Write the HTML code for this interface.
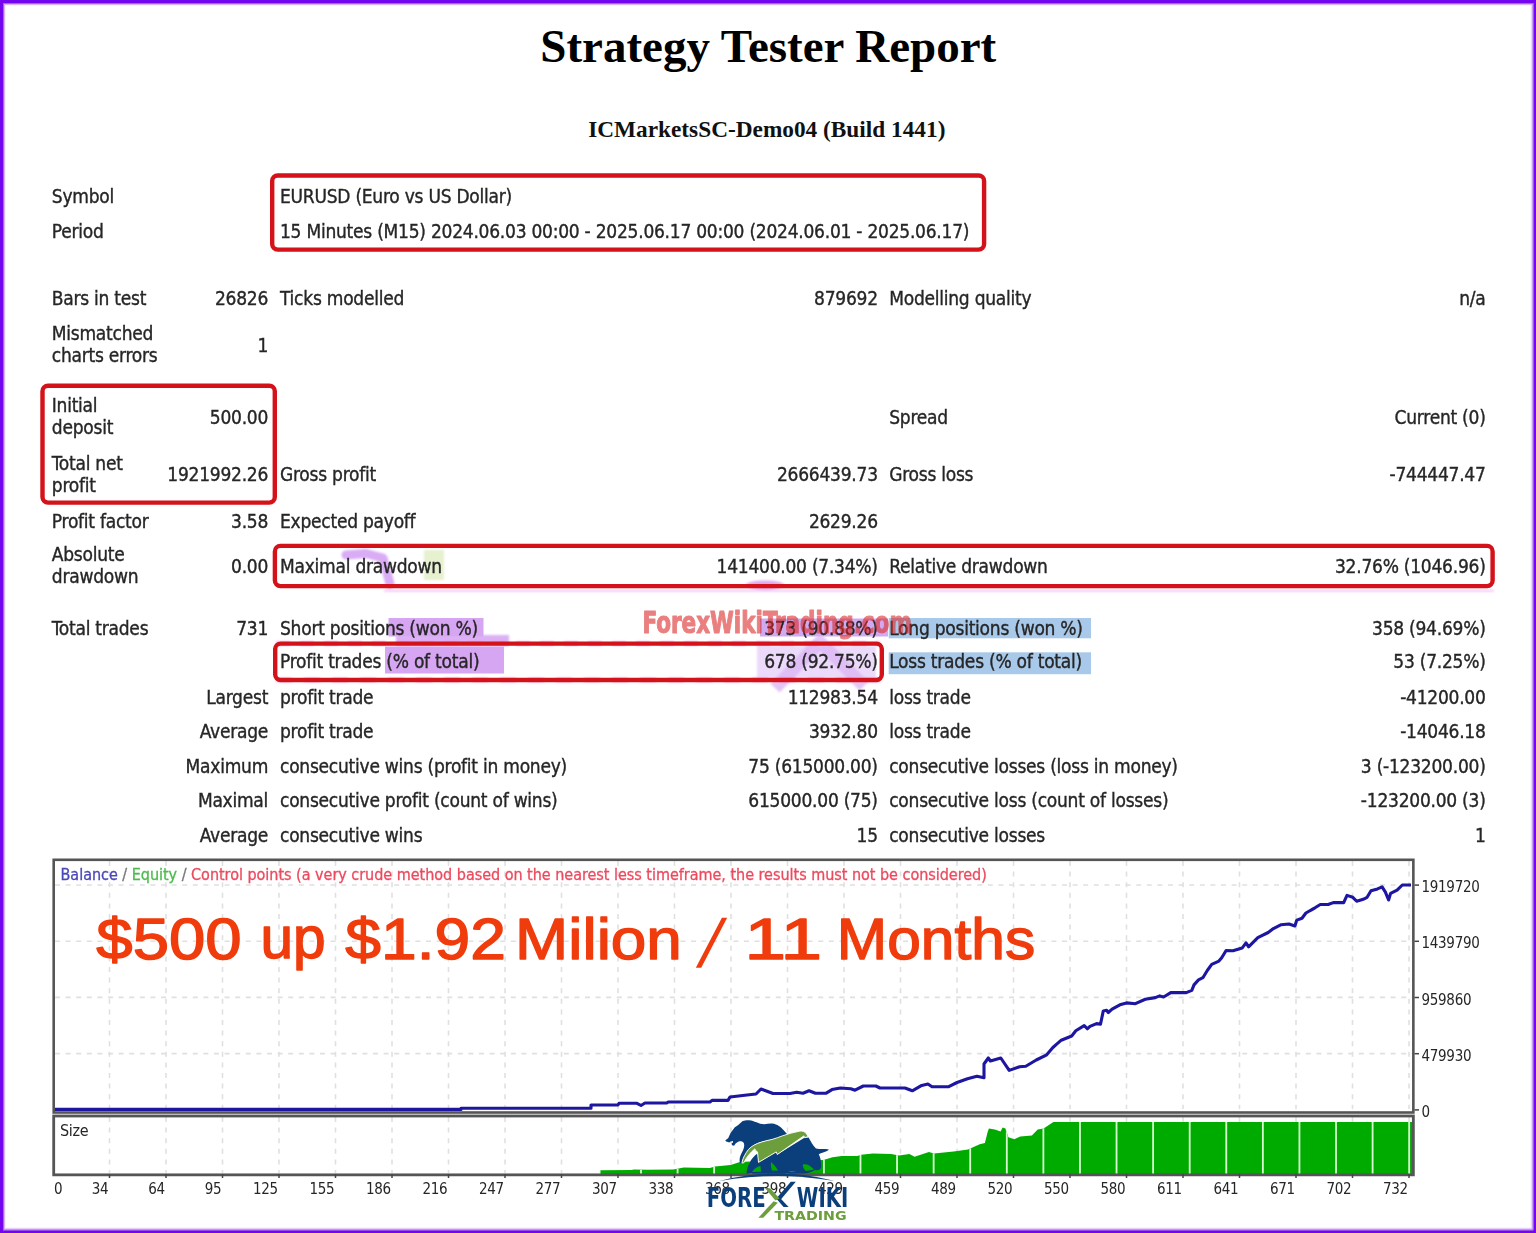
<!DOCTYPE html>
<html lang="en"><head><meta charset="utf-8"><title>Strategy Tester Report</title>
<style>html,body{margin:0;padding:0;background:#fff;}body{width:1536px;height:1233px;overflow:hidden;}svg{display:block;}</style>
</head><body>
<svg width="1536" height="1233" viewBox="0 0 1536 1233" font-family='"DejaVu Sans Condensed","DejaVu Sans","Liberation Sans",sans-serif'>
<rect width="1536" height="1233" fill="#fff"/>
<text x="768.3" y="61.6" text-anchor="middle" font-family='"Liberation Serif","Times New Roman",serif' font-weight="bold" font-size="47" fill="#000">Strategy Tester Report</text>
<text x="766.8" y="136.7" text-anchor="middle" font-family='"Liberation Serif","Times New Roman",serif' font-weight="bold" font-size="23.3" fill="#111">ICMarketsSC-Demo04 (Build 1441)</text>
<filter id="bl" x="-20%" y="-20%" width="140%" height="140%"><feGaussianBlur stdDeviation="1.1"/></filter>
<g filter="url(#bl)">
<polyline points="346,555 366,553.5 383,558 390,584" fill="none" stroke="#d9acf5" stroke-width="9" stroke-linecap="round" stroke-linejoin="round"/>
<rect x="424" y="550" width="20" height="30" fill="#e6f1cf"/>
<line x1="384" y1="590.8" x2="1494" y2="590.8" stroke="#eaa2ea" stroke-width="1.6" opacity="0.75"/>
<rect x="396" y="635" width="113" height="11" fill="#dcb0f4"/>
<ellipse cx="765" cy="585" rx="19" ry="4.5" fill="#dcaaf2"/>
<rect x="757" y="646" width="119" height="32" fill="#ecdafa"/>
<polyline points="775,688 820,642 864,686" fill="none" stroke="#dcb6f4" stroke-width="13" stroke-linejoin="round" opacity="0.8"/>
<line x1="276" y1="643.5" x2="880" y2="643.5" stroke="#ee88e0" stroke-width="5" stroke-dasharray="14 10" opacity="0.5"/>
<line x1="276" y1="680" x2="880" y2="680" stroke="#ee88e0" stroke-width="5" stroke-dasharray="16 12" opacity="0.5"/>
</g>
<rect x="388.5" y="618" width="95" height="18.5" fill="#d7a6f3"/>
<rect x="385" y="646.5" width="119" height="27" fill="#d7a6f3"/>
<rect x="760" y="618.5" width="128" height="18" fill="#cfaaf0"/>
<rect x="888.7" y="618" width="202.3" height="20.3" fill="#a9c9ea"/>
<rect x="888.7" y="652.3" width="202.3" height="21.9" fill="#a9c9ea"/>
<g stroke="#262626" stroke-width="0.35">
<text x="280" y="203.3" font-size="19" letter-spacing="-0.25" fill="#262626">EURUSD (Euro vs US Dollar)</text>
<text x="51.8" y="203.3" font-size="19" letter-spacing="-0.25" fill="#262626">Symbol</text>
<text x="51.8" y="238.2" font-size="19" letter-spacing="-0.25" fill="#262626">Period</text>
<text x="280" y="238.2" font-size="19" letter-spacing="-0.25" fill="#262626">15 Minutes (M15) 2024.06.03 00:00 - 2025.06.17 00:00 (2024.06.01 - 2025.06.17)</text>
<text x="51.8" y="305" font-size="19" letter-spacing="-0.25" fill="#262626">Bars in test</text>
<text x="268.1" y="305" text-anchor="end" font-size="19" letter-spacing="-0.25" fill="#262626">26826</text>
<text x="280" y="305" font-size="19" letter-spacing="-0.25" fill="#262626">Ticks modelled</text>
<text x="877.8" y="305" text-anchor="end" font-size="19" letter-spacing="-0.25" fill="#262626">879692</text>
<text x="889.2" y="305" font-size="19" letter-spacing="-0.25" fill="#262626">Modelling quality</text>
<text x="1485.6" y="305" text-anchor="end" font-size="19" letter-spacing="-0.25" fill="#262626">n/a</text>
<text x="51.8" y="340.2" font-size="19" letter-spacing="-0.25" fill="#262626">Mismatched</text>
<text x="51.8" y="362" font-size="19" letter-spacing="-0.25" fill="#262626">charts errors</text>
<text x="268.1" y="351.9" text-anchor="end" font-size="19" letter-spacing="-0.25" fill="#262626">1</text>
<text x="51.8" y="412" font-size="19" letter-spacing="-0.25" fill="#262626">Initial</text>
<text x="51.8" y="434" font-size="19" letter-spacing="-0.25" fill="#262626">deposit</text>
<text x="268.1" y="423.5" text-anchor="end" font-size="19" letter-spacing="-0.25" fill="#262626">500.00</text>
<text x="889.2" y="423.5" font-size="19" letter-spacing="-0.25" fill="#262626">Spread</text>
<text x="1485.6" y="423.5" text-anchor="end" font-size="19" letter-spacing="-0.25" fill="#262626">Current (0)</text>
<text x="51.8" y="469.7" font-size="19" letter-spacing="-0.25" fill="#262626">Total net</text>
<text x="51.8" y="491.6" font-size="19" letter-spacing="-0.25" fill="#262626">profit</text>
<text x="268.1" y="481.4" text-anchor="end" font-size="19" letter-spacing="-0.25" fill="#262626">1921992.26</text>
<text x="280" y="481.4" font-size="19" letter-spacing="-0.25" fill="#262626">Gross profit</text>
<text x="877.8" y="481.4" text-anchor="end" font-size="19" letter-spacing="-0.25" fill="#262626">2666439.73</text>
<text x="889.2" y="481.4" font-size="19" letter-spacing="-0.25" fill="#262626">Gross loss</text>
<text x="1485.6" y="481.4" text-anchor="end" font-size="19" letter-spacing="-0.25" fill="#262626">-744447.47</text>
<text x="51.8" y="527.5" font-size="19" letter-spacing="-0.25" fill="#262626">Profit factor</text>
<text x="268.1" y="527.5" text-anchor="end" font-size="19" letter-spacing="-0.25" fill="#262626">3.58</text>
<text x="280" y="527.5" font-size="19" letter-spacing="-0.25" fill="#262626">Expected payoff</text>
<text x="877.8" y="527.5" text-anchor="end" font-size="19" letter-spacing="-0.25" fill="#262626">2629.26</text>
<text x="51.8" y="561" font-size="19" letter-spacing="-0.25" fill="#262626">Absolute</text>
<text x="51.8" y="583" font-size="19" letter-spacing="-0.25" fill="#262626">drawdown</text>
<text x="268.1" y="572.8" text-anchor="end" font-size="19" letter-spacing="-0.25" fill="#262626">0.00</text>
<text x="280" y="572.8" font-size="19" letter-spacing="-0.25" fill="#262626">Maximal drawdown</text>
<text x="877.8" y="572.8" text-anchor="end" font-size="19" letter-spacing="-0.25" fill="#262626">141400.00 (7.34%)</text>
<text x="889.2" y="572.8" font-size="19" letter-spacing="-0.25" fill="#262626">Relative drawdown</text>
<text x="1485.6" y="572.8" text-anchor="end" font-size="19" letter-spacing="-0.25" fill="#262626">32.76% (1046.96)</text>
<text x="51.8" y="635.2" font-size="19" letter-spacing="-0.25" fill="#262626">Total trades</text>
<text x="268.1" y="635.2" text-anchor="end" font-size="19" letter-spacing="-0.25" fill="#262626">731</text>
<text x="280" y="635.2" font-size="19" letter-spacing="-0.25" fill="#262626">Short positions (won %)</text>
<text x="877.8" y="635.2" text-anchor="end" font-size="19" letter-spacing="-0.25" fill="#262626">373 (90.88%)</text>
<text x="889.2" y="635.2" font-size="19" letter-spacing="-0.25" fill="#262626">Long positions (won %)</text>
<text x="1485.6" y="635.2" text-anchor="end" font-size="19" letter-spacing="-0.25" fill="#262626">358 (94.69%)</text>
<text x="280" y="668" font-size="19" letter-spacing="-0.25" fill="#262626">Profit trades (% of total)</text>
<text x="877.8" y="668" text-anchor="end" font-size="19" letter-spacing="-0.25" fill="#262626">678 (92.75%)</text>
<text x="889.2" y="668" font-size="19" letter-spacing="-0.25" fill="#262626">Loss trades (% of total)</text>
<text x="1485.6" y="668" text-anchor="end" font-size="19" letter-spacing="-0.25" fill="#262626">53 (7.25%)</text>
<text x="268.1" y="704" text-anchor="end" font-size="19" letter-spacing="-0.25" fill="#262626">Largest</text>
<text x="280" y="704" font-size="19" letter-spacing="-0.25" fill="#262626">profit trade</text>
<text x="877.8" y="704" text-anchor="end" font-size="19" letter-spacing="-0.25" fill="#262626">112983.54</text>
<text x="889.2" y="704" font-size="19" letter-spacing="-0.25" fill="#262626">loss trade</text>
<text x="1485.6" y="704" text-anchor="end" font-size="19" letter-spacing="-0.25" fill="#262626">-41200.00</text>
<text x="268.1" y="737.5" text-anchor="end" font-size="19" letter-spacing="-0.25" fill="#262626">Average</text>
<text x="280" y="737.5" font-size="19" letter-spacing="-0.25" fill="#262626">profit trade</text>
<text x="877.8" y="737.5" text-anchor="end" font-size="19" letter-spacing="-0.25" fill="#262626">3932.80</text>
<text x="889.2" y="737.5" font-size="19" letter-spacing="-0.25" fill="#262626">loss trade</text>
<text x="1485.6" y="737.5" text-anchor="end" font-size="19" letter-spacing="-0.25" fill="#262626">-14046.18</text>
<text x="268.1" y="773.1" text-anchor="end" font-size="19" letter-spacing="-0.25" fill="#262626">Maximum</text>
<text x="280" y="773.1" font-size="19" letter-spacing="-0.25" fill="#262626">consecutive wins (profit in money)</text>
<text x="877.8" y="773.1" text-anchor="end" font-size="19" letter-spacing="-0.25" fill="#262626">75 (615000.00)</text>
<text x="889.2" y="773.1" font-size="19" letter-spacing="-0.25" fill="#262626">consecutive losses (loss in money)</text>
<text x="1485.6" y="773.1" text-anchor="end" font-size="19" letter-spacing="-0.25" fill="#262626">3 (-123200.00)</text>
<text x="268.1" y="806.9" text-anchor="end" font-size="19" letter-spacing="-0.25" fill="#262626">Maximal</text>
<text x="280" y="806.9" font-size="19" letter-spacing="-0.25" fill="#262626">consecutive profit (count of wins)</text>
<text x="877.8" y="806.9" text-anchor="end" font-size="19" letter-spacing="-0.25" fill="#262626">615000.00 (75)</text>
<text x="889.2" y="806.9" font-size="19" letter-spacing="-0.25" fill="#262626">consecutive loss (count of losses)</text>
<text x="1485.6" y="806.9" text-anchor="end" font-size="19" letter-spacing="-0.25" fill="#262626">-123200.00 (3)</text>
<text x="268.1" y="841.6" text-anchor="end" font-size="19" letter-spacing="-0.25" fill="#262626">Average</text>
<text x="280" y="841.6" font-size="19" letter-spacing="-0.25" fill="#262626">consecutive wins</text>
<text x="877.8" y="841.6" text-anchor="end" font-size="19" letter-spacing="-0.25" fill="#262626">15</text>
<text x="889.2" y="841.6" font-size="19" letter-spacing="-0.25" fill="#262626">consecutive losses</text>
<text x="1485.6" y="841.6" text-anchor="end" font-size="19" letter-spacing="-0.25" fill="#262626">1</text>
</g>
<rect x="272.2" y="175.5" width="711.9" height="74.1" rx="5.5" fill="none" stroke="#d41219" stroke-width="4.4"/>
<rect x="42.5" y="385.7" width="232.29999999999998" height="116.9" rx="5.5" fill="none" stroke="#d41219" stroke-width="4.4"/>
<rect x="274.9" y="545.9000000000001" width="1217.6999999999998" height="40.19999999999991" rx="5.5" fill="none" stroke="#d41219" stroke-width="4.4"/>
<rect x="275.2" y="643.6" width="606.6" height="36.40000000000007" rx="5.5" fill="none" stroke="#d41219" stroke-width="4.4"/>
<line x1="109.5" y1="861" x2="109.5" y2="1109" stroke="#e0e0e0" stroke-width="1.6" stroke-dasharray="5 5.6"/>
<line x1="109.5" y1="1117" x2="109.5" y2="1173" stroke="#e0e0e0" stroke-width="1.6" stroke-dasharray="5 5.6"/>
<line x1="166.0" y1="861" x2="166.0" y2="1109" stroke="#e0e0e0" stroke-width="1.6" stroke-dasharray="5 5.6"/>
<line x1="166.0" y1="1117" x2="166.0" y2="1173" stroke="#e0e0e0" stroke-width="1.6" stroke-dasharray="5 5.6"/>
<line x1="222.5" y1="861" x2="222.5" y2="1109" stroke="#e0e0e0" stroke-width="1.6" stroke-dasharray="5 5.6"/>
<line x1="222.5" y1="1117" x2="222.5" y2="1173" stroke="#e0e0e0" stroke-width="1.6" stroke-dasharray="5 5.6"/>
<line x1="279.0" y1="861" x2="279.0" y2="1109" stroke="#e0e0e0" stroke-width="1.6" stroke-dasharray="5 5.6"/>
<line x1="279.0" y1="1117" x2="279.0" y2="1173" stroke="#e0e0e0" stroke-width="1.6" stroke-dasharray="5 5.6"/>
<line x1="335.5" y1="861" x2="335.5" y2="1109" stroke="#e0e0e0" stroke-width="1.6" stroke-dasharray="5 5.6"/>
<line x1="335.5" y1="1117" x2="335.5" y2="1173" stroke="#e0e0e0" stroke-width="1.6" stroke-dasharray="5 5.6"/>
<line x1="392.0" y1="861" x2="392.0" y2="1109" stroke="#e0e0e0" stroke-width="1.6" stroke-dasharray="5 5.6"/>
<line x1="392.0" y1="1117" x2="392.0" y2="1173" stroke="#e0e0e0" stroke-width="1.6" stroke-dasharray="5 5.6"/>
<line x1="448.5" y1="861" x2="448.5" y2="1109" stroke="#e0e0e0" stroke-width="1.6" stroke-dasharray="5 5.6"/>
<line x1="448.5" y1="1117" x2="448.5" y2="1173" stroke="#e0e0e0" stroke-width="1.6" stroke-dasharray="5 5.6"/>
<line x1="505.0" y1="861" x2="505.0" y2="1109" stroke="#e0e0e0" stroke-width="1.6" stroke-dasharray="5 5.6"/>
<line x1="505.0" y1="1117" x2="505.0" y2="1173" stroke="#e0e0e0" stroke-width="1.6" stroke-dasharray="5 5.6"/>
<line x1="561.5" y1="861" x2="561.5" y2="1109" stroke="#e0e0e0" stroke-width="1.6" stroke-dasharray="5 5.6"/>
<line x1="561.5" y1="1117" x2="561.5" y2="1173" stroke="#e0e0e0" stroke-width="1.6" stroke-dasharray="5 5.6"/>
<line x1="618.0" y1="861" x2="618.0" y2="1109" stroke="#e0e0e0" stroke-width="1.6" stroke-dasharray="5 5.6"/>
<line x1="618.0" y1="1117" x2="618.0" y2="1173" stroke="#e0e0e0" stroke-width="1.6" stroke-dasharray="5 5.6"/>
<line x1="674.5" y1="861" x2="674.5" y2="1109" stroke="#e0e0e0" stroke-width="1.6" stroke-dasharray="5 5.6"/>
<line x1="674.5" y1="1117" x2="674.5" y2="1173" stroke="#e0e0e0" stroke-width="1.6" stroke-dasharray="5 5.6"/>
<line x1="731.0" y1="861" x2="731.0" y2="1109" stroke="#e0e0e0" stroke-width="1.6" stroke-dasharray="5 5.6"/>
<line x1="731.0" y1="1117" x2="731.0" y2="1173" stroke="#e0e0e0" stroke-width="1.6" stroke-dasharray="5 5.6"/>
<line x1="787.5" y1="861" x2="787.5" y2="1109" stroke="#e0e0e0" stroke-width="1.6" stroke-dasharray="5 5.6"/>
<line x1="787.5" y1="1117" x2="787.5" y2="1173" stroke="#e0e0e0" stroke-width="1.6" stroke-dasharray="5 5.6"/>
<line x1="844.0" y1="861" x2="844.0" y2="1109" stroke="#e0e0e0" stroke-width="1.6" stroke-dasharray="5 5.6"/>
<line x1="844.0" y1="1117" x2="844.0" y2="1173" stroke="#e0e0e0" stroke-width="1.6" stroke-dasharray="5 5.6"/>
<line x1="900.5" y1="861" x2="900.5" y2="1109" stroke="#e0e0e0" stroke-width="1.6" stroke-dasharray="5 5.6"/>
<line x1="900.5" y1="1117" x2="900.5" y2="1173" stroke="#e0e0e0" stroke-width="1.6" stroke-dasharray="5 5.6"/>
<line x1="957.0" y1="861" x2="957.0" y2="1109" stroke="#e0e0e0" stroke-width="1.6" stroke-dasharray="5 5.6"/>
<line x1="957.0" y1="1117" x2="957.0" y2="1173" stroke="#e0e0e0" stroke-width="1.6" stroke-dasharray="5 5.6"/>
<line x1="1013.5" y1="861" x2="1013.5" y2="1109" stroke="#e0e0e0" stroke-width="1.6" stroke-dasharray="5 5.6"/>
<line x1="1013.5" y1="1117" x2="1013.5" y2="1173" stroke="#e0e0e0" stroke-width="1.6" stroke-dasharray="5 5.6"/>
<line x1="1070.0" y1="861" x2="1070.0" y2="1109" stroke="#e0e0e0" stroke-width="1.6" stroke-dasharray="5 5.6"/>
<line x1="1070.0" y1="1117" x2="1070.0" y2="1173" stroke="#e0e0e0" stroke-width="1.6" stroke-dasharray="5 5.6"/>
<line x1="1126.5" y1="861" x2="1126.5" y2="1109" stroke="#e0e0e0" stroke-width="1.6" stroke-dasharray="5 5.6"/>
<line x1="1126.5" y1="1117" x2="1126.5" y2="1173" stroke="#e0e0e0" stroke-width="1.6" stroke-dasharray="5 5.6"/>
<line x1="1183.0" y1="861" x2="1183.0" y2="1109" stroke="#e0e0e0" stroke-width="1.6" stroke-dasharray="5 5.6"/>
<line x1="1183.0" y1="1117" x2="1183.0" y2="1173" stroke="#e0e0e0" stroke-width="1.6" stroke-dasharray="5 5.6"/>
<line x1="1239.5" y1="861" x2="1239.5" y2="1109" stroke="#e0e0e0" stroke-width="1.6" stroke-dasharray="5 5.6"/>
<line x1="1239.5" y1="1117" x2="1239.5" y2="1173" stroke="#e0e0e0" stroke-width="1.6" stroke-dasharray="5 5.6"/>
<line x1="1296.0" y1="861" x2="1296.0" y2="1109" stroke="#e0e0e0" stroke-width="1.6" stroke-dasharray="5 5.6"/>
<line x1="1296.0" y1="1117" x2="1296.0" y2="1173" stroke="#e0e0e0" stroke-width="1.6" stroke-dasharray="5 5.6"/>
<line x1="1352.5" y1="861" x2="1352.5" y2="1109" stroke="#e0e0e0" stroke-width="1.6" stroke-dasharray="5 5.6"/>
<line x1="1352.5" y1="1117" x2="1352.5" y2="1173" stroke="#e0e0e0" stroke-width="1.6" stroke-dasharray="5 5.6"/>
<line x1="1409.0" y1="861" x2="1409.0" y2="1109" stroke="#e0e0e0" stroke-width="1.6" stroke-dasharray="5 5.6"/>
<line x1="1409.0" y1="1117" x2="1409.0" y2="1173" stroke="#e0e0e0" stroke-width="1.6" stroke-dasharray="5 5.6"/>
<line x1="55" y1="885" x2="1412" y2="885" stroke="#e0e0e0" stroke-width="1.6" stroke-dasharray="5 5.6"/>
<line x1="55" y1="941.2" x2="1412" y2="941.2" stroke="#e0e0e0" stroke-width="1.6" stroke-dasharray="5 5.6"/>
<line x1="55" y1="997.4" x2="1412" y2="997.4" stroke="#e0e0e0" stroke-width="1.6" stroke-dasharray="5 5.6"/>
<line x1="55" y1="1053.6" x2="1412" y2="1053.6" stroke="#e0e0e0" stroke-width="1.6" stroke-dasharray="5 5.6"/>
<polygon points="600.5,1174 600.4,1170.2 631.7,1170 633.75,1169.4 647.3,1169.7 673.3,1169.5 683.75,1167.6 709.8,1168.1 715,1166.6 730.6,1165 740,1161.9 750,1161.4 790,1160.6 823.4,1160 832.5,1157.3 841.7,1156 857.3,1156 861.2,1154.7 872.9,1153.4 891.1,1154.1 899,1155.4 909.4,1154.1 914.6,1156.7 928.9,1152.1 934.1,1153.4 953.6,1151.5 968,1149.5 979.7,1144.3 984.9,1143 987.5,1132.6 988.9,1128.6 994.8,1129.5 1000.6,1131.5 1002.6,1127.6 1005.5,1128.6 1008.4,1137.3 1014.3,1139.3 1020.2,1136.4 1031.9,1135.4 1037.7,1129.5 1043.6,1128.6 1053.4,1122.1 1412,1122.1 1412,1174" fill="#00ab00"/>
<clipPath id="hc"><polygon points="600.5,1174 600.4,1170.2 631.7,1170 633.75,1169.4 647.3,1169.7 673.3,1169.5 683.75,1167.6 709.8,1168.1 715,1166.6 730.6,1165 740,1161.9 750,1161.4 790,1160.6 823.4,1160 832.5,1157.3 841.7,1156 857.3,1156 861.2,1154.7 872.9,1153.4 891.1,1154.1 899,1155.4 909.4,1154.1 914.6,1156.7 928.9,1152.1 934.1,1153.4 953.6,1151.5 968,1149.5 979.7,1144.3 984.9,1143 987.5,1132.6 988.9,1128.6 994.8,1129.5 1000.6,1131.5 1002.6,1127.6 1005.5,1128.6 1008.4,1137.3 1014.3,1139.3 1020.2,1136.4 1031.9,1135.4 1037.7,1129.5 1043.6,1128.6 1053.4,1122.1 1412,1122.1 1412,1174"/></clipPath><g clip-path="url(#hc)">
<line x1="641.0" y1="1120" x2="641.0" y2="1174" stroke="#d8ffd0" stroke-width="1.8"/>
<line x1="677.58" y1="1120" x2="677.58" y2="1174" stroke="#d8ffd0" stroke-width="1.8"/>
<line x1="714.16" y1="1120" x2="714.16" y2="1174" stroke="#d8ffd0" stroke-width="1.8"/>
<line x1="750.74" y1="1120" x2="750.74" y2="1174" stroke="#d8ffd0" stroke-width="1.8"/>
<line x1="787.3199999999999" y1="1120" x2="787.3199999999999" y2="1174" stroke="#d8ffd0" stroke-width="1.8"/>
<line x1="823.9" y1="1120" x2="823.9" y2="1174" stroke="#d8ffd0" stroke-width="1.8"/>
<line x1="860.48" y1="1120" x2="860.48" y2="1174" stroke="#d8ffd0" stroke-width="1.8"/>
<line x1="897.06" y1="1120" x2="897.06" y2="1174" stroke="#d8ffd0" stroke-width="1.8"/>
<line x1="933.64" y1="1120" x2="933.64" y2="1174" stroke="#d8ffd0" stroke-width="1.8"/>
<line x1="970.22" y1="1120" x2="970.22" y2="1174" stroke="#d8ffd0" stroke-width="1.8"/>
<line x1="1006.8" y1="1120" x2="1006.8" y2="1174" stroke="#d8ffd0" stroke-width="1.8"/>
<line x1="1043.38" y1="1120" x2="1043.38" y2="1174" stroke="#d8ffd0" stroke-width="1.8"/>
<line x1="1079.96" y1="1120" x2="1079.96" y2="1174" stroke="#d8ffd0" stroke-width="1.8"/>
<line x1="1116.54" y1="1120" x2="1116.54" y2="1174" stroke="#d8ffd0" stroke-width="1.8"/>
<line x1="1153.12" y1="1120" x2="1153.12" y2="1174" stroke="#d8ffd0" stroke-width="1.8"/>
<line x1="1189.6999999999998" y1="1120" x2="1189.6999999999998" y2="1174" stroke="#d8ffd0" stroke-width="1.8"/>
<line x1="1226.28" y1="1120" x2="1226.28" y2="1174" stroke="#d8ffd0" stroke-width="1.8"/>
<line x1="1262.8600000000001" y1="1120" x2="1262.8600000000001" y2="1174" stroke="#d8ffd0" stroke-width="1.8"/>
<line x1="1299.44" y1="1120" x2="1299.44" y2="1174" stroke="#d8ffd0" stroke-width="1.8"/>
<line x1="1336.02" y1="1120" x2="1336.02" y2="1174" stroke="#d8ffd0" stroke-width="1.8"/>
<line x1="1372.6" y1="1120" x2="1372.6" y2="1174" stroke="#d8ffd0" stroke-width="1.8"/>
<line x1="1409.1799999999998" y1="1120" x2="1409.1799999999998" y2="1174" stroke="#d8ffd0" stroke-width="1.8"/>
</g>
<polyline points="55,1109.4 461,1109.4 461,1108.2 591,1108.2 591,1105 618,1105 619,1103.3 637,1103.3 641,1105.5 645,1103 667,1103 668,1102 710,1102 712,1100.4 728,1100.4 730,1097 747,1095 756,1094 761,1089 773,1093.5 790,1093.5 796.7,1092.3 803,1093.3 809,1090.8 815.4,1093.3 825.8,1093.3 832,1089.6 840.4,1088 850.8,1088.75 855,1090.2 863.3,1086 875.8,1086 880,1088 905,1088 912.3,1090.8 921.7,1085.4 927.9,1084 932,1086.7 948.75,1086.7 957,1082.5 967.5,1078.75 976.9,1076.25 984,1077.7 984,1064 988.3,1058 990.4,1061 1000.8,1058 1009.2,1070.4 1019.6,1066.7 1025.8,1066.25 1036.25,1060 1046.7,1054.8 1052.9,1047.5 1061.25,1040.2 1071.7,1036 1075.8,1030.8 1084.2,1025.6 1087.3,1028.75 1090,1026.4 1096.6,1023.6 1100.5,1024.2 1103.3,1010.9 1106.6,1010.3 1108.3,1012.5 1112.1,1009.2 1119.9,1004.8 1126.5,1002.9 1135.4,1003.7 1145.3,999.25 1155.3,997.6 1159.7,995.9 1163.6,997 1170.8,992.6 1186.3,992.6 1191.8,990.4 1194,984.9 1198.5,979.9 1202.9,977.7 1207.3,970.5 1211.7,964.4 1218.9,961.1 1221.7,957.7 1226.1,950.5 1233,950.7 1242.1,948.1 1246,942.9 1248.6,946.8 1257.8,937.7 1268.2,932.5 1273.4,928.6 1281.2,924.7 1289,924 1294.9,926 1296.8,920.1 1302,918.2 1305.9,913 1315,907.8 1320.3,904.5 1328.1,904.5 1333.3,902.6 1343.7,902.6 1347,895.4 1352.8,897.3 1356.7,901.25 1363.2,899.3 1367.1,897.3 1371,890.8 1377.5,888.9 1382.1,886.9 1385.4,892.1 1388.6,900 1390.6,893.4 1397.1,890.2 1402.3,885 1411,885" fill="none" stroke="#1c16a0" stroke-width="3.1" stroke-linejoin="round"/>
<rect x="53.7" y="859.8" width="1359.65" height="252.7" fill="none" stroke="#555" stroke-width="2.6"/>
<rect x="53.7" y="1116" width="1359.65" height="58.85" fill="none" stroke="#555" stroke-width="2.8"/>
<text x="1421.5" y="892.1999999999999" font-size="15" letter-spacing="-0.3" fill="#262626">1919720</text>
<line x1="1414.5" y1="885.1" x2="1419" y2="885.1" stroke="#444" stroke-width="1.5"/>
<text x="1421.5" y="948.4" font-size="15" letter-spacing="-0.3" fill="#262626">1439790</text>
<line x1="1414.5" y1="941.3000000000001" x2="1419" y2="941.3000000000001" stroke="#444" stroke-width="1.5"/>
<text x="1421.5" y="1004.5999999999999" font-size="15" letter-spacing="-0.3" fill="#262626">959860</text>
<line x1="1414.5" y1="997.5" x2="1419" y2="997.5" stroke="#444" stroke-width="1.5"/>
<text x="1421.5" y="1060.8" font-size="15" letter-spacing="-0.3" fill="#262626">479930</text>
<line x1="1414.5" y1="1053.7" x2="1419" y2="1053.7" stroke="#444" stroke-width="1.5"/>
<text x="1421.5" y="1117.0" font-size="15" letter-spacing="-0.3" fill="#262626">0</text>
<line x1="1414.5" y1="1109.9" x2="1419" y2="1109.9" stroke="#444" stroke-width="1.5"/>
<text x="54" y="1193.8" font-size="15" letter-spacing="-0.3" fill="#262626">0</text>
<text x="108.3" y="1193.8" text-anchor="end" font-size="15" letter-spacing="-0.3" fill="#262626">34</text>
<line x1="109.5" y1="1174" x2="109.5" y2="1178" stroke="#444" stroke-width="1.5"/>
<text x="164.8" y="1193.8" text-anchor="end" font-size="15" letter-spacing="-0.3" fill="#262626">64</text>
<line x1="166.0" y1="1174" x2="166.0" y2="1178" stroke="#444" stroke-width="1.5"/>
<text x="221.3" y="1193.8" text-anchor="end" font-size="15" letter-spacing="-0.3" fill="#262626">95</text>
<line x1="222.5" y1="1174" x2="222.5" y2="1178" stroke="#444" stroke-width="1.5"/>
<text x="277.8" y="1193.8" text-anchor="end" font-size="15" letter-spacing="-0.3" fill="#262626">125</text>
<line x1="279.0" y1="1174" x2="279.0" y2="1178" stroke="#444" stroke-width="1.5"/>
<text x="334.3" y="1193.8" text-anchor="end" font-size="15" letter-spacing="-0.3" fill="#262626">155</text>
<line x1="335.5" y1="1174" x2="335.5" y2="1178" stroke="#444" stroke-width="1.5"/>
<text x="390.8" y="1193.8" text-anchor="end" font-size="15" letter-spacing="-0.3" fill="#262626">186</text>
<line x1="392.0" y1="1174" x2="392.0" y2="1178" stroke="#444" stroke-width="1.5"/>
<text x="447.3" y="1193.8" text-anchor="end" font-size="15" letter-spacing="-0.3" fill="#262626">216</text>
<line x1="448.5" y1="1174" x2="448.5" y2="1178" stroke="#444" stroke-width="1.5"/>
<text x="503.8" y="1193.8" text-anchor="end" font-size="15" letter-spacing="-0.3" fill="#262626">247</text>
<line x1="505.0" y1="1174" x2="505.0" y2="1178" stroke="#444" stroke-width="1.5"/>
<text x="560.3" y="1193.8" text-anchor="end" font-size="15" letter-spacing="-0.3" fill="#262626">277</text>
<line x1="561.5" y1="1174" x2="561.5" y2="1178" stroke="#444" stroke-width="1.5"/>
<text x="616.8" y="1193.8" text-anchor="end" font-size="15" letter-spacing="-0.3" fill="#262626">307</text>
<line x1="618.0" y1="1174" x2="618.0" y2="1178" stroke="#444" stroke-width="1.5"/>
<text x="673.3" y="1193.8" text-anchor="end" font-size="15" letter-spacing="-0.3" fill="#262626">338</text>
<line x1="674.5" y1="1174" x2="674.5" y2="1178" stroke="#444" stroke-width="1.5"/>
<text x="729.8" y="1193.8" text-anchor="end" font-size="15" letter-spacing="-0.3" fill="#262626">368</text>
<line x1="731.0" y1="1174" x2="731.0" y2="1178" stroke="#444" stroke-width="1.5"/>
<text x="786.3" y="1193.8" text-anchor="end" font-size="15" letter-spacing="-0.3" fill="#262626">398</text>
<line x1="787.5" y1="1174" x2="787.5" y2="1178" stroke="#444" stroke-width="1.5"/>
<text x="842.8" y="1193.8" text-anchor="end" font-size="15" letter-spacing="-0.3" fill="#262626">429</text>
<line x1="844.0" y1="1174" x2="844.0" y2="1178" stroke="#444" stroke-width="1.5"/>
<text x="899.3" y="1193.8" text-anchor="end" font-size="15" letter-spacing="-0.3" fill="#262626">459</text>
<line x1="900.5" y1="1174" x2="900.5" y2="1178" stroke="#444" stroke-width="1.5"/>
<text x="955.8" y="1193.8" text-anchor="end" font-size="15" letter-spacing="-0.3" fill="#262626">489</text>
<line x1="957.0" y1="1174" x2="957.0" y2="1178" stroke="#444" stroke-width="1.5"/>
<text x="1012.3" y="1193.8" text-anchor="end" font-size="15" letter-spacing="-0.3" fill="#262626">520</text>
<line x1="1013.5" y1="1174" x2="1013.5" y2="1178" stroke="#444" stroke-width="1.5"/>
<text x="1068.8" y="1193.8" text-anchor="end" font-size="15" letter-spacing="-0.3" fill="#262626">550</text>
<line x1="1070.0" y1="1174" x2="1070.0" y2="1178" stroke="#444" stroke-width="1.5"/>
<text x="1125.3" y="1193.8" text-anchor="end" font-size="15" letter-spacing="-0.3" fill="#262626">580</text>
<line x1="1126.5" y1="1174" x2="1126.5" y2="1178" stroke="#444" stroke-width="1.5"/>
<text x="1181.8" y="1193.8" text-anchor="end" font-size="15" letter-spacing="-0.3" fill="#262626">611</text>
<line x1="1183.0" y1="1174" x2="1183.0" y2="1178" stroke="#444" stroke-width="1.5"/>
<text x="1238.3" y="1193.8" text-anchor="end" font-size="15" letter-spacing="-0.3" fill="#262626">641</text>
<line x1="1239.5" y1="1174" x2="1239.5" y2="1178" stroke="#444" stroke-width="1.5"/>
<text x="1294.8" y="1193.8" text-anchor="end" font-size="15" letter-spacing="-0.3" fill="#262626">671</text>
<line x1="1296.0" y1="1174" x2="1296.0" y2="1178" stroke="#444" stroke-width="1.5"/>
<text x="1351.3" y="1193.8" text-anchor="end" font-size="15" letter-spacing="-0.3" fill="#262626">702</text>
<line x1="1352.5" y1="1174" x2="1352.5" y2="1178" stroke="#444" stroke-width="1.5"/>
<text x="1407.8" y="1193.8" text-anchor="end" font-size="15" letter-spacing="-0.3" fill="#262626">732</text>
<line x1="1409.0" y1="1174" x2="1409.0" y2="1178" stroke="#444" stroke-width="1.5"/>
<text x="60" y="1136" font-size="16" letter-spacing="-0.3" fill="#262626">Size</text>
<text x="60.5" y="879.9" font-size="16" letter-spacing="-0.02" stroke-width="0.3"><tspan fill="#4a48b8" stroke="#4a48b8">Balance</tspan><tspan fill="#777" stroke="#777"> / </tspan><tspan fill="#4cbb4c" stroke="#4cbb4c">Equity</tspan><tspan fill="#777" stroke="#777"> / </tspan><tspan fill="#ec4a5e" stroke="#ec4a5e">Control points (a very crude method based on the nearest less timeframe, the results must not be considered)</tspan></text>
<path d="M725.2 1140.5 L728.3 1137.9 L730.4 1133.2 L734.6 1127.5 L738.2 1124.9 L742.4 1121.2 C745 1120.2 747 1120 749.2 1120.2 C752 1120.6 754 1121.4 756.5 1122.25 C759 1123.2 761.5 1124.3 764.3 1124.3 C767 1124 769.5 1123.4 772.1 1123.6 C775 1124 777 1124.8 778.9 1125.9 C781 1127.3 782.5 1128.7 783.5 1130.1 L787.2 1134.2 C784 1136 780.5 1137.2 777.3 1137.9 C773.5 1139 770 1139.8 766.9 1140.5 C764 1141.2 761.5 1141.8 759.1 1142.6 C756.5 1143.6 754.3 1144.8 752.3 1146.2 C750.2 1147.8 748.5 1149.5 747.1 1151.4 C745.5 1153.5 744.3 1155.6 743.4 1157.7 C742.7 1159.5 742.2 1161.2 741.9 1162.9 L739.8 1162.9 C739.5 1161 739.5 1159.2 739.8 1157.7 C740.3 1155.8 741 1154.2 741.9 1152.5 C742.8 1150.8 743.6 1149 744 1147.25 C744.3 1146 744.3 1144.7 744 1143.6 C743.5 1142.4 742.8 1141.8 741.9 1141.5 C740.8 1141.3 739.8 1141.3 738.75 1141.5 C737.5 1142 736.4 1142.8 735.6 1143.6 L734.1 1145.7 L732 1145.2 L731.5 1143.6 L733 1142.6 L733 1141 L730.4 1141.5 L729.4 1142.6 L726.25 1141.5 Z" fill="#0b3f7c"/>
<path d="M746.5 1173.6 C747 1166 751 1158 757.5 1153.5 L758.5 1162.4 L776.25 1151.9 L777.3 1154.5 L804.5 1137.8 L808.6 1137.4 C810.6 1141 812.8 1145.6 816 1148.4 C820 1149.6 824.5 1148.4 829 1149.6 C827 1152 822.5 1152.6 818.8 1154.2 C820.6 1158 821.6 1163 821.2 1167.2 C820.4 1170 818 1170.6 815 1170 C812 1172 808 1173.4 804 1173.4 Z" fill="#0b3f7c"/>
<path d="M752 1172 C754 1168.5 757 1166.5 760.4 1166 L761 1171.8 Z" fill="#00ab00"/>
<path d="M771 1162 C773.5 1164 776 1167 778 1170.6 L772 1170.6 C771 1168 770.6 1165 771 1162 Z" fill="#00ab00"/>
<path d="M788.5 1172 C790.5 1170.5 793 1170.6 796 1172 Z" fill="#00ab00"/>
<path d="M803 1164.5 C806 1163.6 810 1165 814 1169.6 L806 1171 C803.6 1169 802.4 1166.5 803 1164.5 Z" fill="#00ab00"/>
<path d="M741.9 1162.9 C742.5 1160 743.4 1157.7 744.5 1155.6 C745.7 1153.3 747 1151.2 748.6 1149.3 C750.2 1147.6 752 1146.2 753.9 1145.2 C756.4 1143.8 759 1142.8 761.7 1142 C765 1141 768.5 1140.2 772.1 1139.4 C775.6 1138.5 779 1137.1 782.5 1135.8 C788 1133.8 794 1132.2 800 1131.1 C803 1130.7 806 1132 808.2 1136.6 L804.8 1137.6 L803.8 1135.9 L777.3 1154.5 L776.25 1151.9 L758.5 1162.4 L757.5 1151.9 L755.4 1150.4 L754.9 1148.8 C750.5 1152.5 746 1157.5 743.8 1162.9 Z" fill="#6c9e3c" stroke="#fff" stroke-width="0.9"/>
<path d="M719.5 1181 Q778 1165.5 835 1181 Q778 1171 719.5 1181 Z" fill="#0b3f7c"/>
<text transform="translate(708.60,1207) scale(0.8275,1)" x="-2.12" y="0" font-family='"DejaVu Sans Condensed","DejaVu Sans",sans-serif' font-weight="bold" font-size="26.5" fill="#0b3f7c">FORE</text>
<text transform="translate(797.40,1207) scale(0.8218,1)" x="-0.66" y="0" font-family='"DejaVu Sans Condensed","DejaVu Sans",sans-serif' font-weight="bold" font-size="26.5" fill="#0b3f7c">WIKI</text>
<text transform="translate(774.50,1219.8) scale(1.2255,1)" x="-0.06" y="0" font-family='"DejaVu Sans Condensed","DejaVu Sans",sans-serif' font-weight="bold" font-size="12.9" fill="#6c9e3c">TRADING</text>
<polygon points="790.8,1181.8 795.8,1181.8 780.2,1200.2 775.8,1199" fill="#0b3f7c"/>
<polygon points="776.4,1198.8 780.6,1198.6 788.6,1207 783.6,1207" fill="#0b3f7c"/>
<polygon points="765.2,1188.2 770.2,1188.2 779.6,1198.6 775.4,1200.6" fill="#6c9e3c"/>
<polygon points="773.6,1201.2 777.8,1202.8 763.2,1217.8 758.4,1217.8" fill="#6c9e3c"/>
<text transform="translate(97.00,958.6) scale(1.1254,1)" x="-0.58" y="0" font-family='"Liberation Sans",Arial,sans-serif' font-weight="normal" font-size="58" fill="#f03c0c" stroke="#f03c0c" stroke-width="1.4" stroke-linejoin="round">$500</text>
<text transform="translate(264.20,958.4) scale(1.0018,1)" x="-3.80" y="0" font-family='"Liberation Sans",Arial,sans-serif' font-weight="normal" font-size="58.5" fill="#f03c0c" stroke="#f03c0c" stroke-width="1.4" stroke-linejoin="round">up</text>
<text transform="translate(346.00,958.6) scale(1.1059,1)" x="-0.58" y="0" font-family='"Liberation Sans",Arial,sans-serif' font-weight="normal" font-size="58" fill="#f03c0c" stroke="#f03c0c" stroke-width="1.4" stroke-linejoin="round">$1.92</text>
<text transform="translate(520.20,958.6) scale(1.1105,1)" x="-4.60" y="0" font-family='"Liberation Sans",Arial,sans-serif' font-weight="normal" font-size="57.5" fill="#f03c0c" stroke="#f03c0c" stroke-width="1.4" stroke-linejoin="round">Milion</text>
<text transform="translate(696,966.6) skewX(-14)" x="0.00" y="0" font-family='"Liberation Sans",Arial,sans-serif' font-size="68" fill="#f03c0c">/</text>
<text transform="translate(750.10,958.6) scale(1.2870,1)" x="-4.35" y="0" font-family='"Liberation Sans",Arial,sans-serif' font-weight="normal" font-size="58" fill="#f03c0c" stroke="#f03c0c" stroke-width="1.4" stroke-linejoin="round">11</text>
<text transform="translate(841.70,958.6) scale(1.0517,1)" x="-4.60" y="0" font-family='"Liberation Sans",Arial,sans-serif' font-weight="normal" font-size="57.5" fill="#f03c0c" stroke="#f03c0c" stroke-width="1.4" stroke-linejoin="round">Months</text>
<g opacity="0.6"><text transform="translate(644.30,633.2) scale(0.7987,1)" x="-2.40" y="0" font-family='"DejaVu Sans Condensed","DejaVu Sans",sans-serif' font-weight="bold" font-size="30" fill="#dc2a2a" stroke="#dc2a2a" stroke-width="1.1" stroke-linejoin="round">ForexWikiTrading.com</text></g>
<path fill-rule="evenodd" fill="#7406ef" d="M0 0H1536V1233H0Z M3 3H1533.3V1230.3H3Z"/>
<path fill-rule="evenodd" fill="#a466ec" d="M3 3H1533.3V1230.3H3Z M4 4H1532.3V1229.3H4Z"/>
<path fill-rule="evenodd" fill="#d8b6f8" d="M4 4H1532.3V1229.3H4Z M5 5H1531.3V1228.3H5Z"/>
<path fill-rule="evenodd" fill="#f9effd" d="M5 5H1531.3V1228.3H5Z M6 6H1530.3V1227.3H6Z"/>
</svg>
</body></html>
